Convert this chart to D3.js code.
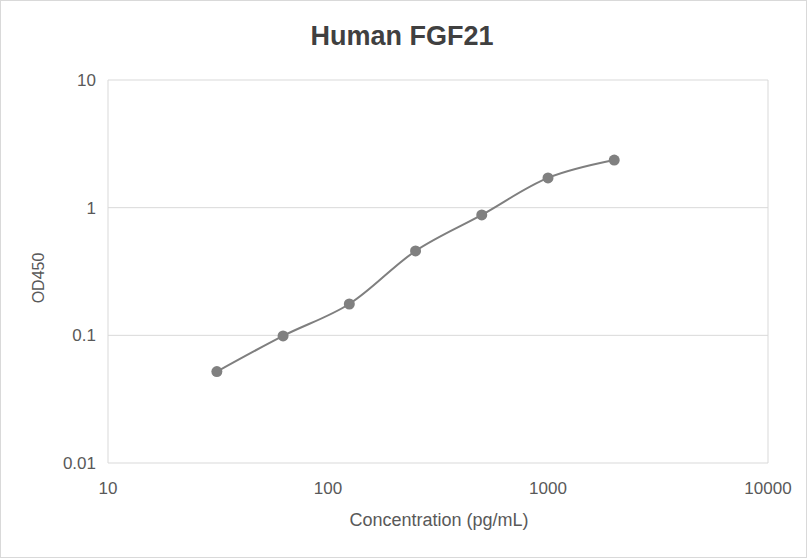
<!DOCTYPE html>
<html><head><meta charset="utf-8">
<script src="https://cdn.jsdelivr.net/npm/d3@7"></script>
<style>body{margin:0;background:#fff;font-family:Arial,"Liberation Sans",sans-serif;}</style>
</head><body>
<script>
const concentrations = [31.25, 62.5, 125, 250, 500, 1000, 2000];
const od450 = [0.052, 0.099, 0.176, 0.458, 0.877, 1.71, 2.36];
const xTicks = [10, 100, 1000, 10000];
const yTicks = [0.01, 0.1, 1, 10];

const W = 807, H = 558;
const svg = d3.select("body").append("svg").attr("width", W).attr("height", H);
svg.append("rect").attr("x",0.5).attr("y",0.5).attr("width",W-1).attr("height",H-1)
  .attr("fill","#fff").attr("stroke","#d9d9d9");

const x = d3.scaleLog().domain([10,10000]).range([108,768]);
const y = d3.scaleLog().domain([0.01,10]).range([463,80]);

svg.append("g").selectAll("line").data(yTicks).join("line")
  .attr("x1",108).attr("x2",768).attr("y1",d=>y(d)).attr("y2",d=>y(d))
  .attr("stroke","#d9d9d9");
svg.append("g").selectAll("line").data([10,10000]).join("line")
  .attr("x1",d=>x(d)).attr("x2",d=>x(d)).attr("y1",80).attr("y2",463)
  .attr("stroke","#d9d9d9");

svg.append("g").selectAll("text").data(yTicks).join("text")
  .attr("x",96).attr("y",d=>y(d)+6).attr("text-anchor","end")
  .attr("font-size",17).attr("fill","#595959").text(d=>String(d));
svg.append("g").selectAll("text").data(xTicks).join("text")
  .attr("x",d=>x(d)).attr("y",494).attr("text-anchor","middle")
  .attr("font-size",17).attr("fill","#595959").text(d=>String(d));

svg.append("text").attr("x",402).attr("y",45).attr("text-anchor","middle")
  .attr("font-size",27).attr("font-weight","bold").attr("fill","#404040").text("Human FGF21");
svg.append("text").attr("x",439).attr("y",526).attr("text-anchor","middle")
  .attr("font-size",18).attr("fill","#595959").text("Concentration (pg/mL)");
svg.append("text").attr("transform","translate(44,278) rotate(-90)").attr("text-anchor","middle")
  .attr("font-size",16).attr("fill","#595959").text("OD450");

const pts = concentrations.map((c,i)=>[x(c), y(od450[i])]);
svg.append("path").attr("d", d3.line().curve(d3.curveCatmullRom.alpha(0.5))(pts))
  .attr("fill","none").attr("stroke","#7f7f7f").attr("stroke-width",2);
svg.append("g").selectAll("circle").data(pts).join("circle")
  .attr("cx",d=>d[0]).attr("cy",d=>d[1]).attr("r",5.5).attr("fill","#808080");
</script>
</body></html>
